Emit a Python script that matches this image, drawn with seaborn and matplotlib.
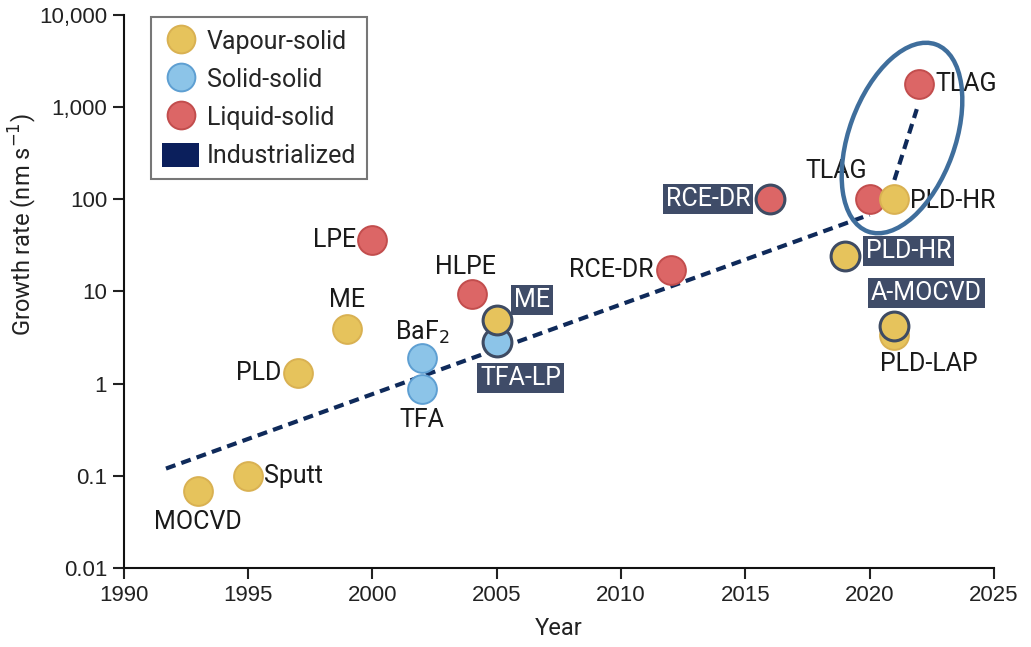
import matplotlib.pyplot as plt
import seaborn as sns
import pandas as pd
from matplotlib.patches import Ellipse, Patch
from matplotlib.lines import Line2D
from matplotlib.ticker import FixedLocator, FixedFormatter, NullLocator

sns.set_theme(style="ticks")
plt.rcParams['font.family'] = ['Roboto', 'DejaVu Sans']

# data
years = [1993, 1995, 1997, 1999, 2000, 2002, 2002, 2004, 2005, 2005,
         2012, 2016, 2019, 2020, 2021, 2021, 2021, 2022]
rates = [0.068, 0.1, 1.3, 3.9, 36, 0.88, 1.9, 9.5, 2.8, 4.9,
         17, 100, 24, 100, 3.4, 4.2, 100, 1800]
names = ["MOCVD", "Sputt", "PLD", "ME", "LPE", "TFA", "BaF$_2$", "HLPE", "TFA-LP", "ME",
         "RCE-DR", "RCE-DR", "PLD-HR", "TLAG", "PLD-LAP", "A-MOCVD", "PLD-HR", "TLAG"]
kinds = ["Vapour-solid", "Vapour-solid", "Vapour-solid", "Vapour-solid", "Liquid-solid",
         "Solid-solid", "Solid-solid", "Liquid-solid", "Solid-solid", "Vapour-solid",
         "Liquid-solid", "Liquid-solid", "Vapour-solid", "Liquid-solid", "Vapour-solid",
         "Vapour-solid", "Vapour-solid", "Liquid-solid"]
industrial = [False, False, False, False, False, False, False, False, True, True,
              False, True, True, False, False, True, False, False]

trend_x = [1991.7, 2020.0]
trend_y = [0.12, 68]
jump_x = [2020.8, 2021.9]
jump_y = [110, 950]

df = pd.DataFrame({"year": years, "rate": rates, "name": names,
                   "kind": kinds, "industrial": industrial})

fill = {"Vapour-solid": "#E6C35C", "Solid-solid": "#8CC4E8", "Liquid-solid": "#DC6666"}
edge = {"Vapour-solid": "#D9B152", "Solid-solid": "#5E9FD2", "Liquid-solid": "#C24D4D"}
ind_edge = "#3E4B63"
box_col = "#3F4C68"

# label offsets in pixels (dx, dy), alignment
offsets = [(0, -31, "center"), (16, 0, "left"), (-16, 0, "right"), (0, 29, "center"),
           (-16, 0, "right"), (0, -31, "center"), (0, 26, "center"), (-6, 27, "center"),
           (24, -36, "center"), (17, 20, "left"),
           (-17, 0, "right"), (-20, 0, "right"), (21, 5, "left"), (-33, 28, "center"),
           (34, -29, "center"), (32, 33, "center"), (16, -2, "left"), (16, 0, "left")]

fig, ax = plt.subplots(figsize=(10.31, 6.47), dpi=100)
fig.subplots_adjust(left=0.120, right=0.964, bottom=0.122, top=0.977)

ax.set_yscale("log")
ax.set_xlim(1990, 2025)
ax.set_ylim(0.01, 10000)

sns.lineplot(x=trend_x, y=trend_y, ax=ax, color="#0F2A5A", lw=3,
             linestyle=(0, (2.4, 1.5)), zorder=1)
sns.lineplot(x=jump_x, y=jump_y, ax=ax, color="#0F2A5A", lw=3,
             linestyle=(0, (2.4, 1.5)), zorder=1)

for i, row in df.iterrows():
    ec = ind_edge if row["industrial"] else edge[row["kind"]]
    sns.scatterplot(x=[row["year"]], y=[row["rate"]], ax=ax, s=430,
                    color=fill[row["kind"]], edgecolor=ec,
                    linewidth=2.2 if row["industrial"] else 1.4, zorder=3 + i * 0.01)
    dx, dy, ha = offsets[i]
    if row["industrial"]:
        ax.annotate(row["name"], (row["year"], row["rate"]), xytext=(dx, dy),
                    textcoords="offset pixels", ha=ha, va="center", fontsize=18,
                    color="white", zorder=5,
                    bbox=dict(boxstyle="square,pad=0.12", fc=box_col, ec="none"))
    else:
        ax.annotate(row["name"], (row["year"], row["rate"]), xytext=(dx, dy),
                    textcoords="offset pixels", ha=ha, va="center", fontsize=18,
                    color="#1a1a1a", zorder=5)

# highlight ellipse (drawn in figure inches)
ell = Ellipse((9.02, 5.09), 1.06, 1.99, angle=-20, transform=fig.dpi_scale_trans,
              fill=False, ec="#3F6E9C", lw=3.2, zorder=6)
fig.add_artist(ell)

yticks = [0.01, 0.1, 1, 10, 100, 1000, 10000]
ylabels = ["0.01", "0.1", "1", "10", "100", "1,000", "10,000"]
ax.yaxis.set_major_locator(FixedLocator(yticks))
ax.yaxis.set_major_formatter(FixedFormatter(ylabels))
ax.yaxis.set_minor_locator(NullLocator())
ax.set_xticks(range(1990, 2026, 5))

ax.tick_params(axis="both", labelsize=16, colors="#222222", length=8, width=1.5,
               direction="out", pad=4)
for lab in ax.get_xticklabels() + ax.get_yticklabels():
    lab.set_family(["Liberation Sans", "DejaVu Sans"])
for s in ["left", "bottom"]:
    ax.spines[s].set_linewidth(1.5)
    ax.spines[s].set_color("#111111")
sns.despine(ax=ax)

ax.set_xlabel("Year", fontsize=17, color="#222222", labelpad=8)
ax.set_ylabel("Growth rate (nm s$^{-1}$)", fontsize=17, color="#222222")
ax.yaxis.set_label_coords(-0.097, 0.62)

handles = [Line2D([], [], marker="o", ls="", ms=20, mfc=fill[k], mec=edge[k], mew=1.4)
           for k in ["Vapour-solid", "Solid-solid", "Liquid-solid"]]
handles.append(Patch(fc="#0B1F5C", ec="none"))
leg = ax.legend(handles, ["Vapour-solid", "Solid-solid", "Liquid-solid", "Industrialized"],
                loc="upper left", bbox_to_anchor=(0.028, 1.0), fontsize=18,
                frameon=True, fancybox=False, edgecolor="#555555", handlelength=1.5,
                handleheight=1.1, handletextpad=0.3, labelspacing=0.5, borderpad=0.45,
                borderaxespad=0.1)
leg.get_frame().set_linewidth(1.5)

fig.savefig("out.png", dpi=100)
